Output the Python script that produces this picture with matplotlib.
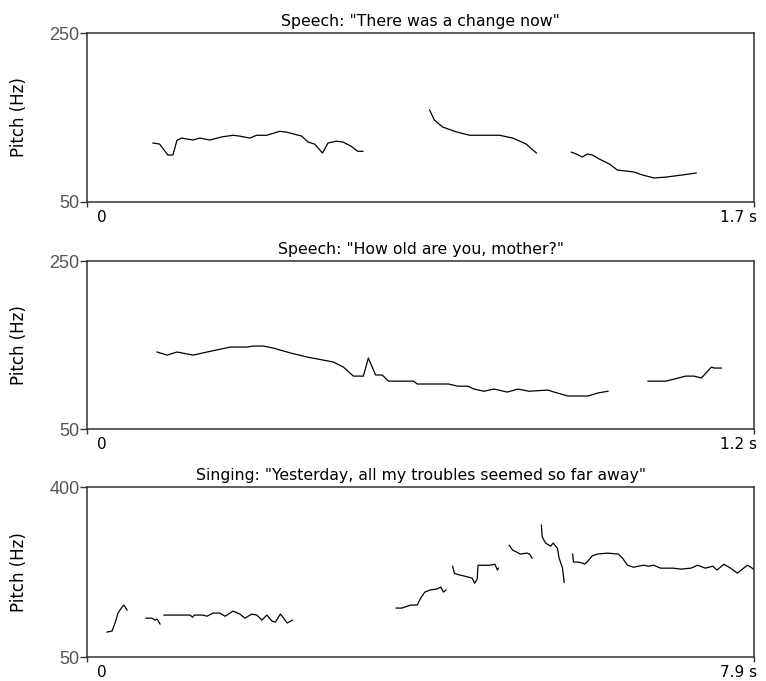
import matplotlib
matplotlib.use("Agg")
import matplotlib.pyplot as plt

# Panel 1: Speech "There was a change now" (time in s, pitch in Hz)
p1_seg1_t = [0.168, 0.185, 0.206, 0.219, 0.229, 0.241, 0.27, 0.288, 0.313, 0.343, 0.372, 0.389, 0.415,
             0.432, 0.458, 0.491, 0.508, 0.547, 0.563, 0.58, 0.600, 0.614, 0.635, 0.652, 0.673, 0.69, 0.703]
p1_seg1_f = [119.8, 118.6, 105.6, 105.6, 123, 125.7, 123.4, 125.7, 123.4, 127, 129, 128, 125.7,
             129, 129, 133.7, 132.8, 128, 121, 118.6, 108, 119.8, 122, 121, 116, 110, 110]
p1_seg2_t = [0.873, 0.885, 0.906, 0.941, 0.975, 1.051, 1.085, 1.119, 1.145]
p1_seg2_f = [158.9, 147, 138.8, 133, 129, 129, 125.7, 118.6, 108]
p1_seg3_t = [1.234, 1.247, 1.262, 1.275, 1.288, 1.305, 1.331, 1.351, 1.394, 1.415, 1.445, 1.478, 1.534, 1.552]
p1_seg3_f = [109, 106.8, 103.3, 106.8, 105.6, 100.9, 95, 87.9, 85.5, 82, 78.4, 79.6, 83.1, 84.3]

# Panel 2: Speech "How old are you, mother?"
p2_seg1_t = [0.126, 0.144, 0.162, 0.191, 0.216, 0.258, 0.288, 0.299, 0.317, 0.335, 0.366, 0.396, 0.443,
             0.461, 0.479, 0.497, 0.506, 0.519, 0.531, 0.542, 0.587, 0.594, 0.650, 0.667, 0.685, 0.696,
             0.714, 0.732, 0.756, 0.775, 0.795, 0.829, 0.840, 0.865, 0.901, 0.919, 0.937]
p2_seg1_f = [141.7, 138, 141.7, 138, 141.7, 147.6, 147.6, 148.8, 148.8, 146.4, 140.5, 135.7, 129.8,
             123.8, 113, 113, 134.5, 114.3, 114.3, 107, 107, 103.6, 103.6, 101, 101, 97.6,
             95, 97.6, 94, 97.6, 95, 96.4, 94, 89.3, 89.3, 92.9, 95]
p2_seg2_t = [1.009, 1.041, 1.056, 1.077, 1.092, 1.105, 1.123, 1.128, 1.141]
p2_seg2_f = [107, 107, 109.5, 113, 113, 110.7, 123.8, 122.6, 122.6]

# Panel 3: Singing "Yesterday, all my troubles seemed so far away"
p3_seg1_t = [0.237, 0.296, 0.332, 0.367, 0.415, 0.438, 0.474]
p3_seg1_f = [101.4, 103.5, 120, 140.5, 153, 157, 146.7]
p3_seg2_t = [0.699, 0.77, 0.806, 0.83, 0.865]
p3_seg2_f = [130, 130, 126, 128, 118]
p3_seg3_t = [0.912, 1.22, 1.25, 1.27, 1.374, 1.42, 1.493, 1.57, 1.635, 1.73, 1.81, 1.87, 1.95, 2.01,
             2.07, 2.13, 2.19, 2.23, 2.29, 2.32, 2.37, 2.43]
p3_seg3_f = [136.4, 136.4, 132, 136.4, 136.4, 134, 140.5, 140.5, 134, 144.6, 138.5, 130, 138.5, 136.4,
             126, 136.4, 124, 122, 138.5, 132, 120, 126]
p3_seg4_t = [3.66, 3.73, 3.83, 3.91, 3.95, 4.0, 4.06, 4.14, 4.19, 4.22, 4.25]
p3_seg4_f = [150.8, 150.8, 157, 157, 171, 183.7, 187.9, 190, 194, 183.7, 187.9]
p3_seg5_t = [4.33, 4.35, 4.42, 4.56, 4.59, 4.62, 4.63, 4.77, 4.83, 4.86, 4.87]
p3_seg5_f = [237, 222, 218.7, 212.6, 202, 210.5, 239, 239, 241, 229, 233]
p3_seg6_t = [5.00, 5.04, 5.09, 5.13, 5.21, 5.24, 5.27]
p3_seg6_f = [280, 270, 266, 262, 264, 262, 253.7]
p3_seg7_t = [5.38, 5.39, 5.43, 5.49, 5.52, 5.57, 5.59, 5.63, 5.65]
p3_seg7_f = [321.6, 297, 284.6, 278.4, 284.6, 274, 253.7, 233, 204]
p3_seg8_t = [5.75, 5.76, 5.81, 5.87, 5.89, 5.92, 5.98, 6.04, 6.16, 6.29, 6.34, 6.40, 6.47, 6.59, 6.65,
             6.71, 6.79, 6.94, 7.03, 7.15, 7.23, 7.32, 7.41, 7.46, 7.54, 7.62, 7.70, 7.76, 7.82, 7.86, 7.89]
p3_seg8_f = [262, 245.5, 245.5, 243.4, 241, 245.5, 258, 262, 264, 262, 253.7, 239, 235, 239, 237,
             239, 233, 233, 231, 233, 239, 233, 237, 229, 241, 233, 222.8, 231, 239, 235, 231]

titles = ['Speech: "There was a change now"',
          'Speech: "How old are you, mother?"',
          'Singing: "Yesterday, all my troubles seemed so far away"']
durations = [1.7, 1.2, 7.9]
duration_labels = ['1.7 s', '1.2 s', '7.9 s']
pitch_ranges = [(50, 250), (50, 250), (50, 400)]

segments = [
    [(p1_seg1_t, p1_seg1_f), (p1_seg2_t, p1_seg2_f), (p1_seg3_t, p1_seg3_f)],
    [(p2_seg1_t, p2_seg1_f), (p2_seg2_t, p2_seg2_f)],
    [(p3_seg1_t, p3_seg1_f), (p3_seg2_t, p3_seg2_f), (p3_seg3_t, p3_seg3_f), (p3_seg4_t, p3_seg4_f),
     (p3_seg5_t, p3_seg5_f), (p3_seg6_t, p3_seg6_f), (p3_seg7_t, p3_seg7_f), (p3_seg8_t, p3_seg8_f)],
]

fig = plt.figure(figsize=(7.66, 6.81), dpi=100)

# axes boxes in figure fraction (left, bottom, width, height)
boxes = [(0.1136, 0.7034, 0.871, 0.248),
         (0.1136, 0.3700, 0.871, 0.2467),
         (0.1136, 0.0352, 0.871, 0.2496)]

for i in range(3):
    ax = fig.add_axes(boxes[i])
    for t, f in segments[i]:
        ax.plot(t, f, color='black', linewidth=0.9)

    lo, hi = pitch_ranges[i]
    ax.set_xlim(0, durations[i])
    ax.set_ylim(lo, hi)

    for s in ax.spines.values():
        s.set_color('#333333')
        s.set_linewidth(1.1)

    ax.set_yticks([lo, hi])
    ax.set_yticklabels([str(lo), str(hi)], fontfamily='Liberation Sans', fontsize=13, color='#555555')
    ax.tick_params(axis='y', direction='out', length=5, width=1, pad=0.5, colors='#333333',
                   labelcolor='#555555')

    ax.set_xticks([0, durations[i]])
    ax.set_xticklabels([])
    ax.tick_params(axis='x', direction='out', length=3.5, width=1, colors='#333333')
    ax.annotate('0', xy=(0, 0), xycoords='axes fraction', xytext=(7, -6), textcoords='offset points',
                ha='left', va='top', fontsize=11)
    ax.annotate(duration_labels[i], xy=(1, 0), xycoords='axes fraction', xytext=(2, -6),
                textcoords='offset points', ha='right', va='top', fontsize=11)

    ax.set_title(titles[i], fontsize=11.3, pad=5)
    ax.set_ylabel('Pitch (Hz)', fontsize=12)
    ax.yaxis.set_label_coords(-0.088, 0.5)

fig.savefig('out.png', dpi=100)
